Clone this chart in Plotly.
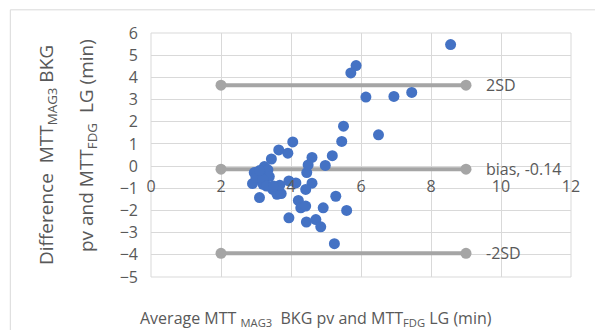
import plotly.graph_objects as go

avg_mtt = [8.56, 5.86, 5.71, 6.14, 6.94, 7.45, 5.50, 6.50, 5.45, 5.18, 4.98, 4.60,
           4.05, 3.65, 3.91, 3.44, 3.24, 3.34, 2.95, 3.14, 3.38, 3.06, 2.90, 3.20,
           3.10, 3.48, 3.60, 3.72, 3.68, 3.94, 4.14, 3.94, 4.21, 4.28, 4.42, 4.44,
           4.71, 4.85, 4.92, 4.60, 4.42, 4.45, 4.49, 5.28, 5.59, 5.24,
           3.00, 3.20, 3.30, 3.50, 3.10]
diff_mtt = [5.48, 4.53, 4.20, 3.11, 3.14, 3.32, 1.80, 1.41, 1.11, 0.47, 0.03, 0.39,
            1.09, 0.73, 0.58, 0.32, -0.02, -0.17, -0.29, -0.36, -0.47, -0.59, -0.79, -0.82,
            -1.42, -1.05, -1.27, -1.24, -0.86, -0.67, -0.76, -2.33, -1.55, -1.88, -1.80, -2.52,
            -2.41, -2.74, -1.88, -0.77, -1.05, -0.29, 0.05, -1.36, -2.00, -3.50,
            -0.50, -0.60, -0.90, -0.90, -0.20]

line_x = [2, 9]
bias = -0.14
upper_2sd = 3.65
lower_2sd = -3.93
line_labels = ["2SD", "bias, -0.14", "-2SD"]
x_ticks = [0, 2, 4, 6, 8, 10, 12]
y_ticks = [6, 5, 4, 3, 2, 1, 0, -1, -2, -3, -4, -5]

FONT = "Open Sans"
TXT = "#595959"
GRID = "#D9D9D9"
GRAY = "#A5A5A5"
BLUE = "#4472C4"

fig = go.Figure()
for yv in [upper_2sd, bias, lower_2sd]:
    fig.add_trace(go.Scatter(x=line_x, y=[yv, yv], mode="lines+markers",
                             line=dict(color=GRAY, width=4),
                             marker=dict(color=GRAY, size=11),
                             showlegend=False, hoverinfo="skip"))
fig.add_trace(go.Scatter(x=avg_mtt, y=diff_mtt, mode="markers",
                         marker=dict(color=BLUE, size=11, line=dict(width=0)),
                         showlegend=False))

for lab, yv in zip(line_labels, [upper_2sd, bias, lower_2sd]):
    fig.add_annotation(x=9.5, y=yv, text=lab, showarrow=False, xanchor="left",
                       yanchor="middle", font=dict(family=FONT, size=16, color=TXT))

fig.update_layout(
    width=595, height=330,
    margin=dict(l=151, r=24, t=33, b=53),
    paper_bgcolor="white", plot_bgcolor="white",
    font=dict(family=FONT, color=TXT),
    xaxis=dict(range=[0, 12], tickvals=x_ticks, showgrid=True, gridcolor=GRID,
               gridwidth=1, zeroline=False, showline=False,
               anchor="free", position=0.455,
               tickfont=dict(family=FONT, size=16, color=TXT), ticklabelstandoff=9),
    yaxis=dict(range=[-5, 6], tickvals=y_ticks, showgrid=True, gridcolor=GRID,
               gridwidth=1, zeroline=True, zerolinecolor=GRID, zerolinewidth=1,
               showline=False,
               tickfont=dict(family=FONT, size=16, color=TXT), ticklabelstandoff=12),
)
# outer chart border and plot frame
fig.add_shape(type="rect", xref="paper", yref="paper", x0=-0.335, x1=1.2, y0=-0.5, y1=1.095,
              line=dict(color="#D9D9D9", width=1), layer="below")
fig.add_shape(type="rect", xref="paper", yref="paper", x0=0, x1=1, y0=0, y1=1,
              line=dict(color=GRID, width=1), layer="below")

fig.add_annotation(xref="paper", yref="paper", x=(47 - 151) / 420, y=(277 - 155) / 244,
                   text="Difference  MTT<sub>MAG3</sub> BKG", textangle=-90, showarrow=False,
                   font=dict(family=FONT, size=19, color=TXT), xanchor="center", yanchor="middle")
fig.add_annotation(xref="paper", yref="paper", x=(87 - 151) / 420, y=(277 - 146) / 244,
                   text="pv and MTT<sub>FDG</sub>  LG (min)", textangle=-90, showarrow=False,
                   font=dict(family=FONT, size=19, color=TXT), xanchor="center", yanchor="middle")
fig.add_annotation(xref="paper", yref="paper", x=(316 - 151) / 420, y=-(318 - 277) / 244,
                   text="Average MTT <sub>MAG3</sub>  BKG pv and MTT<sub>FDG</sub> LG (min)",
                   showarrow=False, font=dict(family=FONT, size=16, color=TXT),
                   xanchor="center", yanchor="middle")

fig.write_html("out.html", config={"displayModeBar": False},
               post_script="document.body.style.margin='0';document.body.style.padding='0';")
